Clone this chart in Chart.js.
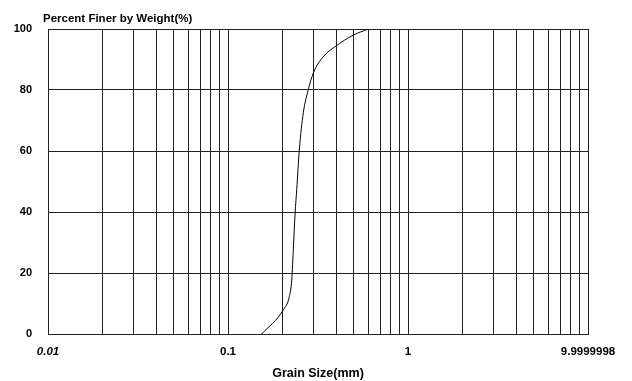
<!DOCTYPE html>
<html>
<head>
<meta charset="utf-8">
<script src="https://cdn.jsdelivr.net/npm/chart.js@4/dist/chart.umd.min.js"></script>
<style>
  body { margin: 0; background: #fff; }
  #wrap { width: 632px; height: 381px; }
</style>
</head>
<body>
<div id="wrap"><canvas id="chart"></canvas></div>
<script>
// grain size curve
const grainSize = [0.154, 0.203, 0.219, 0.226, 0.231, 0.236, 0.241, 0.249, 0.262, 0.279, 0.298, 0.338, 0.393, 0.497, 0.602];
const percentFiner = [0, 7.9, 12.2, 17.7, 28.6, 39.7, 47.5, 60.3, 72.5, 80, 85.6, 90.9, 94.2, 98, 100];

const yTicks = [0, 20, 40, 60, 80, 100];
const xGrid = [];
for (const d of [0.01, 0.1, 1]) {
    for (let m = 1; m <= 9; m++) xGrid.push(+(d * m).toPrecision(3));
}
xGrid.push(10);
const xLabels = { 0.01: "0.01", 0.1: "0.1", 1: "1", 10: "9.9999998" };

const FONT = "'Liberation Sans', Arial, sans-serif";

const titlePlugin = {
    id: "ytitle",
    afterDraw(chart) {
        const ctx = chart.ctx;
        ctx.save();
        ctx.font = "bold 11.5px " + FONT;
        ctx.fillStyle = "#000";
        ctx.textBaseline = "middle";
        ctx.fillText("Percent Finer by Weight(%)", 43, 19);
        ctx.restore();
    }
};

new Chart("chart", {
    type: "line",
    data: {
        datasets: [{
            data: grainSize.map((g, i) => ({ x: g, y: percentFiner[i] })),
            borderColor: "#000",
            borderWidth: 1,
            pointRadius: 0,
            cubicInterpolationMode: "monotone",
            fill: false
        }]
    },
    options: {
        responsive: true,
        maintainAspectRatio: false,
        animation: false,
        layout: { padding: { top: 29, right: 44, left: 0, bottom: 0 } },
        plugins: { legend: { display: false }, tooltip: { enabled: false } },
        scales: {
            x: {
                type: "logarithmic",
                min: 0.01,
                max: 10,
                afterBuildTicks: scale => { scale.ticks = xGrid.map(v => ({ value: v })); },
                afterFit: scale => { scale.height = 47; },
                grid: { color: "#222", lineWidth: 1, drawTicks: false },
                border: { color: "#222" },
                ticks: {
                    autoSkip: false,
                    maxRotation: 0,
                    padding: 11,
                    color: "#000",
                    font: ctx => ({
                        family: FONT,
                        size: 11.5,
                        weight: "bold",
                        style: ctx.tick && ctx.tick.value === 0.01 ? "italic" : "normal"
                    }),
                    callback: v => xLabels[v] || ""
                },
                title: {
                    display: true,
                    text: "Grain Size(mm)",
                    color: "#000",
                    font: { family: FONT, size: 12.5, weight: "bold" },
                    padding: { top: 6, bottom: 0 }
                }
            },
            y: {
                min: 0,
                max: 100,
                afterBuildTicks: scale => { scale.ticks = yTicks.map(v => ({ value: v })); },
                afterFit: scale => { scale.width = 48; },
                grid: { color: "#222", lineWidth: 1, drawTicks: false },
                border: { color: "#222" },
                ticks: {
                    padding: 16,
                    color: "#000",
                    font: { family: FONT, size: 11, weight: "bold" }
                }
            }
        }
    },
    plugins: [titlePlugin]
});
</script>
</body>
</html>
